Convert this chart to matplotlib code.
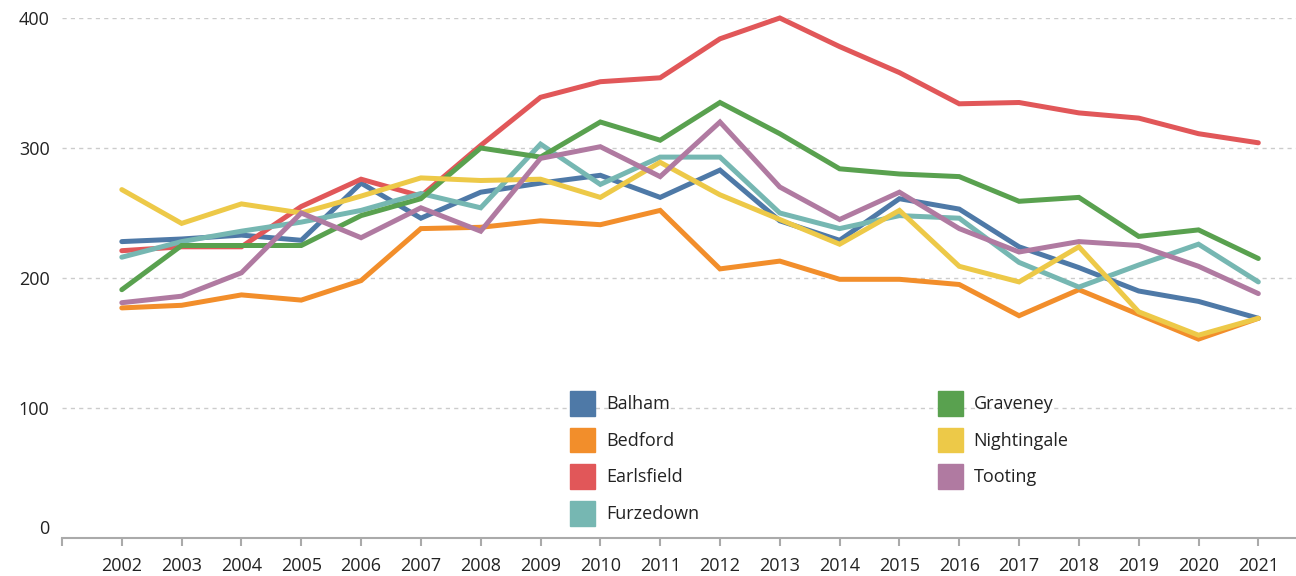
import matplotlib
matplotlib.use("Agg")
import matplotlib.pyplot as plt
from matplotlib.patches import Patch

plt.rcParams['font.family'] = ['Open Sans', 'DejaVu Sans']

years = list(range(2002, 2022))

balham      = [228, 230, 233, 229, 273, 246, 266, 273, 279, 262, 283, 244, 229, 261, 253, 224, 208, 190, 182, 169]
bedford     = [177, 179, 187, 183, 198, 238, 239, 244, 241, 252, 207, 213, 199, 199, 195, 171, 191, 172, 153, 169]
earlsfield  = [221, 224, 224, 255, 276, 263, 302, 339, 351, 354, 384, 400, 378, 358, 334, 335, 327, 323, 311, 304]
furzedown   = [216, 228, 236, 243, 252, 265, 254, 303, 272, 293, 293, 250, 238, 248, 246, 212, 193, 210, 226, 197]
graveney    = [191, 225, 225, 225, 248, 261, 300, 293, 320, 306, 335, 311, 284, 280, 278, 259, 262, 232, 237, 215]
nightingale = [268, 242, 257, 250, 263, 277, 275, 276, 262, 289, 264, 245, 226, 252, 209, 197, 224, 174, 156, 169]
tooting     = [181, 186, 204, 250, 231, 254, 236, 292, 301, 278, 320, 270, 245, 266, 238, 220, 228, 225, 209, 188]

names = ["Balham", "Bedford", "Earlsfield", "Furzedown", "Graveney", "Nightingale", "Tooting"]
series = [balham, bedford, earlsfield, furzedown, graveney, nightingale, tooting]
colors = ["#4e79a7", "#f28e2b", "#e15759", "#76b7b2", "#59a14f", "#edc948", "#b07aa1"]

fig = plt.figure(figsize=(12.96, 5.76), dpi=100)
ax = fig.add_axes([62/1296, 38/576, 1 - 62/1296, 520/576])

for vals, c in zip(series, colors):
    ax.plot(years, vals, color=c, linewidth=3.6, solid_capstyle='round',
            solid_joinstyle='miter', clip_on=False)

ax.set_xlim(2001, 2021.63)
ax.set_ylim(0, 400)

# dashed gridlines
for v in [100, 200, 300, 400]:
    ax.axhline(v, color="#cccccc", linewidth=1, linestyle=(0, (3, 3)), zorder=0)

for s in ["top", "right", "left"]:
    ax.spines[s].set_visible(False)
ax.spines["bottom"].set_color("#aaaaaa")
ax.spines["bottom"].set_linewidth(1.5)

ax.set_xticks([2001] + years)
ax.set_xticklabels([""] + [str(y) for y in years])
ax.tick_params(axis="x", length=6, width=1.5, color="#aaaaaa", pad=7.5,
               labelsize=13, labelcolor="#222222")
ax.set_yticks([0, 100, 200, 300, 400])
ax.tick_params(axis="y", length=0, pad=9, labelsize=13, labelcolor="#222222")
for lab in ax.get_yticklabels():
    if lab.get_text() == "0":
        lab.set_verticalalignment("bottom")

handles = [Patch(color=c, label=n) for n, c in zip(names, colors)]
fig.legend(handles=handles, loc="upper left", bbox_to_anchor=(570/1296, 1 - 391/576),
           ncol=2, frameon=False, fontsize=13, handlelength=1.4, handleheight=1.75,
           handletextpad=0.6, labelspacing=0.64, columnspacing=13.2, borderpad=0,
           borderaxespad=0, labelcolor="#222222")

fig.savefig("out.png", dpi=100)
